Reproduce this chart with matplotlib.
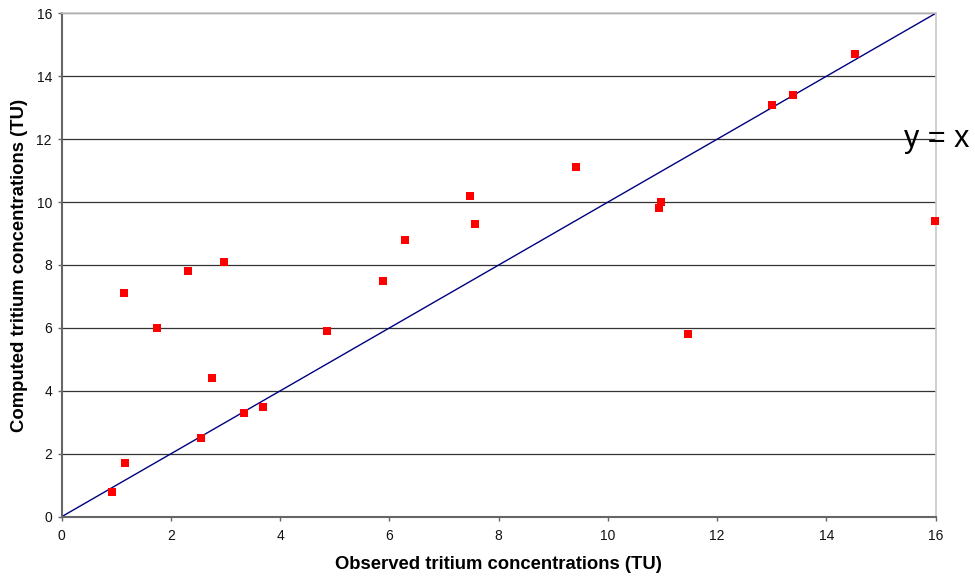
import matplotlib
matplotlib.use("Agg")
import matplotlib.pyplot as plt

plt.rcParams['font.family'] = ['Liberation Sans', 'DejaVu Sans']

# observed vs computed tritium (TU)
observed = [0.92, 1.15, 1.14, 1.75, 2.31, 2.55, 2.75, 2.97, 3.34, 3.69, 4.86,
            5.88, 6.29, 7.48, 7.57, 9.41, 10.94, 10.97, 11.47, 13.0, 13.38,
            14.53, 15.98]
computed = [0.8, 1.7, 7.1, 6.0, 7.8, 2.5, 4.4, 8.1, 3.3, 3.5, 5.9,
            7.5, 8.8, 10.2, 9.3, 11.1, 9.8, 10.0, 5.8, 13.1, 13.4,
            14.7, 9.4]
# 1:1 line
line_x = [0, 16]
line_y = [0, 16]
ticks = [0, 2, 4, 6, 8, 10, 12, 14, 16]

fig = plt.figure(figsize=(9.75, 5.76), dpi=100)
ax = fig.add_axes([0.0633, 0.103, 0.8964, 0.8739])

ax.plot(line_x, line_y, color='#000080', lw=1.0, zorder=2)
ax.plot(observed, computed, 's', color='#ff0000', markersize=5.4,
        markeredgewidth=0, zorder=3, clip_on=False)

ax.set_xlim(0, 16)
ax.set_ylim(0, 16)
ax.set_xticks(ticks)
ax.set_yticks(ticks)
ax.yaxis.grid(True, color='#333333', lw=0.9)
ax.set_axisbelow(True)

for s in ['left', 'bottom']:
    ax.spines[s].set_color('#666666')
    ax.spines[s].set_linewidth(1.5)
for s in ['top', 'right']:
    ax.spines[s].set_color('#c8c8c8')
    ax.spines[s].set_linewidth(1.2)

ax.tick_params(axis='both', direction='out', length=3, width=1,
               color='#666666', labelsize=10, labelcolor='#111111')
ax.tick_params(axis='x', pad=6)
ax.tick_params(axis='y', pad=4)

ax.set_xlabel('Observed tritium concentrations (TU)', fontsize=13.3,
              fontweight='bold', labelpad=9)
ax.set_ylabel('Computed tritium concentrations (TU)', fontsize=13.3,
              fontweight='bold', labelpad=6)

ax.text(15.42, 12, 'y = x', fontsize=22, va='center', ha='left',
        clip_on=False)

fig.savefig('out.png', dpi=100)
